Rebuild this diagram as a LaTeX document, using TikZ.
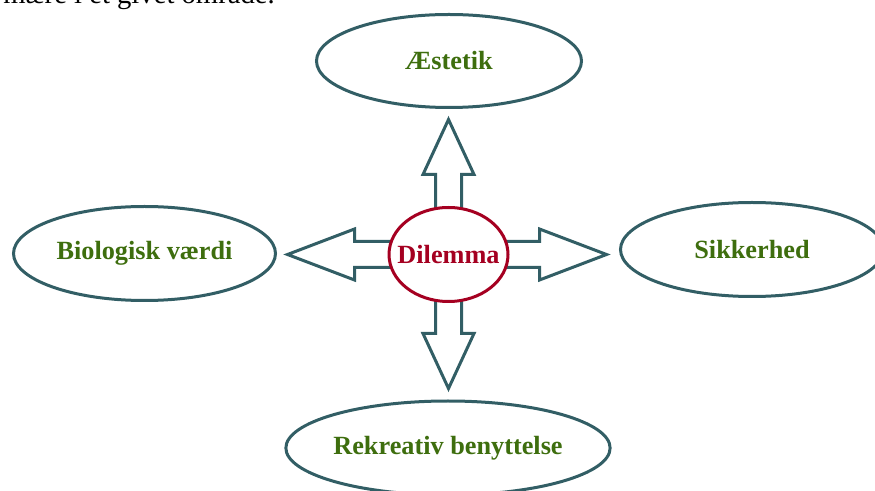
\documentclass[tikz,border=0pt]{standalone}
\usepackage{fontspec}
\setmainfont{Liberation Serif}
\usetikzlibrary{shapes.geometric,backgrounds}
\definecolor{slate}{RGB}{50,94,101}
\definecolor{leaf}{RGB}{62,110,14}
\definecolor{wine}{RGB}{165,0,33}
\tikzset{
  topic/.style={ellipse, draw=slate, line width=2.25pt, fill=white, inner sep=0pt,
    text=leaf, font=\fontsize{19.7}{24}\selectfont\bfseries},
  core/.style={topic, draw=wine, text=wine, inner xsep=-8pt}
  ,outarrow/.style={draw=slate, line width=2.25pt, fill=white, line join=miter}
}
\begin{document}
\begin{tikzpicture}[x=0.75pt,y=-0.75pt]
\useasboundingbox (0,0) rectangle (875,491);
\node[anchor=base east, inner sep=0pt, font=\fontsize{21.5}{26}\selectfont] (lead) at (275,4) {mære i et givet område.};
\node[core, minimum width=89.25pt, minimum height=70.5pt] (dilemma) at (448.5,254.5) {Dilemma};
\node[topic, minimum width=198.75pt, minimum height=69.75pt] (aestetik) at (449,61) {Æstetik};
\node[topic, minimum width=196.5pt, minimum height=70.5pt] (biologi) at (144.5,253.5) {Biologisk værdi};
\node[topic, minimum width=197.25pt, minimum height=70.5pt] (sikker) at (752,249.5) {Sikkerhed};
\node[topic, minimum width=242.25pt, minimum height=70.5pt] (rekreativ) at (448,448) {Rekreativ benyttelse};
% block arrows out of the dilemma
\begin{scope}[on background layer]
\foreach \ang/\len/\hd in {90/135/55,270/134/55,180/161/67,0/158/67}
\draw[outarrow, shift={(dilemma.center)}, rotate=\ang] (0,-13) -- (\len-\hd,-13) -- (\len-\hd,-25.5)
  -- (\len,0) -- (\len-\hd,25.5) -- (\len-\hd,13) -- (0,13) -- cycle;
\end{scope}
\end{tikzpicture}
\end{document}
